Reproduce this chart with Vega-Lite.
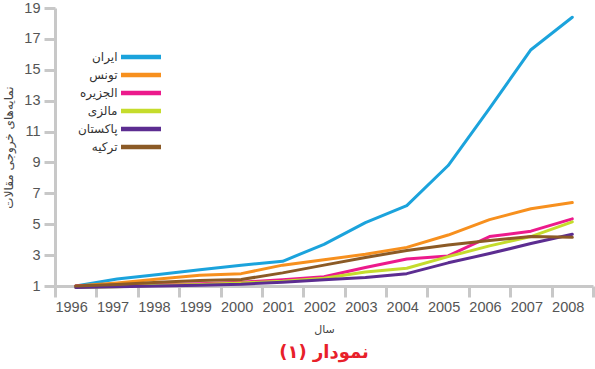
{
  "$schema": "https://vega.github.io/schema/vega-lite/v6.json",
  "width": 538,
  "height": 278,
  "autosize": {"type": "none"},
  "padding": {"left": 55, "top": 8, "right": 2, "bottom": 83},
  "background": "white",
  "title": {"text": "نمودار (۱)", "orient": "bottom", "anchor": "middle", "frame": "group", "color": "#e8202a", "fontSize": 18, "fontWeight": "bold", "font": "DejaVu Sans", "offset": 9},
  "data": {"values": [
    {"country": "ایران", "year": 1996, "value": 1},
    {"country": "ایران", "year": 1997, "value": 1.45},
    {"country": "ایران", "year": 1998, "value": 1.75},
    {"country": "ایران", "year": 1999, "value": 2.05},
    {"country": "ایران", "year": 2000, "value": 2.35},
    {"country": "ایران", "year": 2001, "value": 2.6},
    {"country": "ایران", "year": 2002, "value": 3.7},
    {"country": "ایران", "year": 2003, "value": 5.1},
    {"country": "ایران", "year": 2004, "value": 6.2},
    {"country": "ایران", "year": 2005, "value": 8.8},
    {"country": "ایران", "year": 2006, "value": 12.5},
    {"country": "ایران", "year": 2007, "value": 16.3},
    {"country": "ایران", "year": 2008, "value": 18.4},
    {"country": "تونس", "year": 1996, "value": 1},
    {"country": "تونس", "year": 1997, "value": 1.2},
    {"country": "تونس", "year": 1998, "value": 1.45},
    {"country": "تونس", "year": 1999, "value": 1.7},
    {"country": "تونس", "year": 2000, "value": 1.8},
    {"country": "تونس", "year": 2001, "value": 2.35},
    {"country": "تونس", "year": 2002, "value": 2.7},
    {"country": "تونس", "year": 2003, "value": 3.05},
    {"country": "تونس", "year": 2004, "value": 3.5},
    {"country": "تونس", "year": 2005, "value": 4.3},
    {"country": "تونس", "year": 2006, "value": 5.3},
    {"country": "تونس", "year": 2007, "value": 6.0},
    {"country": "تونس", "year": 2008, "value": 6.4},
    {"country": "الجزیره", "year": 1996, "value": 1},
    {"country": "الجزیره", "year": 1997, "value": 1.05},
    {"country": "الجزیره", "year": 1998, "value": 1.1},
    {"country": "الجزیره", "year": 1999, "value": 1.15},
    {"country": "الجزیره", "year": 2000, "value": 1.25},
    {"country": "الجزیره", "year": 2001, "value": 1.4},
    {"country": "الجزیره", "year": 2002, "value": 1.6},
    {"country": "الجزیره", "year": 2003, "value": 2.2},
    {"country": "الجزیره", "year": 2004, "value": 2.75},
    {"country": "الجزیره", "year": 2005, "value": 2.95},
    {"country": "الجزیره", "year": 2006, "value": 4.2},
    {"country": "الجزیره", "year": 2007, "value": 4.55},
    {"country": "الجزیره", "year": 2008, "value": 5.35},
    {"country": "مالزی", "year": 1996, "value": 0.9},
    {"country": "مالزی", "year": 1997, "value": 0.95},
    {"country": "مالزی", "year": 1998, "value": 1.05},
    {"country": "مالزی", "year": 1999, "value": 1.1},
    {"country": "مالزی", "year": 2000, "value": 1.2},
    {"country": "مالزی", "year": 2001, "value": 1.3},
    {"country": "مالزی", "year": 2002, "value": 1.5},
    {"country": "مالزی", "year": 2003, "value": 1.9},
    {"country": "مالزی", "year": 2004, "value": 2.15},
    {"country": "مالزی", "year": 2005, "value": 2.9},
    {"country": "مالزی", "year": 2006, "value": 3.6},
    {"country": "مالزی", "year": 2007, "value": 4.2},
    {"country": "مالزی", "year": 2008, "value": 5.15},
    {"country": "پاکستان", "year": 1996, "value": 0.9},
    {"country": "پاکستان", "year": 1997, "value": 0.95},
    {"country": "پاکستان", "year": 1998, "value": 1.0},
    {"country": "پاکستان", "year": 1999, "value": 1.05},
    {"country": "پاکستان", "year": 2000, "value": 1.12},
    {"country": "پاکستان", "year": 2001, "value": 1.25},
    {"country": "پاکستان", "year": 2002, "value": 1.4},
    {"country": "پاکستان", "year": 2003, "value": 1.55},
    {"country": "پاکستان", "year": 2004, "value": 1.8},
    {"country": "پاکستان", "year": 2005, "value": 2.5},
    {"country": "پاکستان", "year": 2006, "value": 3.1},
    {"country": "پاکستان", "year": 2007, "value": 3.75},
    {"country": "پاکستان", "year": 2008, "value": 4.35},
    {"country": "ترکیه", "year": 1996, "value": 1},
    {"country": "ترکیه", "year": 1997, "value": 1.1},
    {"country": "ترکیه", "year": 1998, "value": 1.25},
    {"country": "ترکیه", "year": 1999, "value": 1.35},
    {"country": "ترکیه", "year": 2000, "value": 1.42},
    {"country": "ترکیه", "year": 2001, "value": 1.85},
    {"country": "ترکیه", "year": 2002, "value": 2.35},
    {"country": "ترکیه", "year": 2003, "value": 2.85},
    {"country": "ترکیه", "year": 2004, "value": 3.3},
    {"country": "ترکیه", "year": 2005, "value": 3.65},
    {"country": "ترکیه", "year": 2006, "value": 3.95},
    {"country": "ترکیه", "year": 2007, "value": 4.2},
    {"country": "ترکیه", "year": 2008, "value": 4.15}
  ]},
  "mark": {"type": "line", "strokeWidth": 3, "strokeCap": "round", "strokeJoin": "round"},
  "encoding": {
    "x": {
      "field": "year", "type": "ordinal",
      "scale": {"type": "band", "paddingInner": 0, "paddingOuter": 0},
      "axis": {
        "title": "سال", "titleFont": "DejaVu Sans", "titleFontSize": 11, "titleFontWeight": "normal", "titleColor": "#444", "titlePadding": 10,
        "labelAngle": 0, "labelAlign": "left", "labelOffset": -20.7, "labelFont": "Liberation Sans", "labelFontSize": 14.5, "labelColor": "#555", "labelPadding": 3,
        "tickBand": "extent", "tickSize": 11, "tickWidth": 3, "tickColor": "#c8c8c8",
        "domainColor": "#c8c8c8", "domainWidth": 3, "grid": false
      }
    },
    "y": {
      "field": "value", "type": "quantitative",
      "scale": {"domain": [1, 19], "nice": false, "zero": false},
      "axis": {
        "title": "نمایه‌های خروجی مقالات", "titleFont": "DejaVu Sans", "titleFontSize": 12, "titleFontWeight": "normal", "titleColor": "#444", "titlePadding": 8,
        "values": [1, 3, 5, 7, 9, 11, 13, 15, 17, 19],
        "labelFont": "Liberation Sans", "labelFontSize": 14.5, "labelColor": "#555", "labelPadding": 4,
        "tickSize": 11, "tickWidth": 3, "tickColor": "#c8c8c8",
        "domainColor": "#c8c8c8", "domainWidth": 3, "grid": false
      }
    },
    "color": {
      "field": "country", "type": "nominal",
      "scale": {
        "domain": ["ایران", "تونس", "الجزیره", "مالزی", "پاکستان", "ترکیه"],
        "range": ["#1ba3dc", "#f7901e", "#ec1a8c", "#c5dc2c", "#5c2d91", "#8b5a26"]
      },
      "legend": {
        "orient": "none", "legendX": 80, "legendY": 43, "title": null,
        "symbolType": "M-8,0H8", "symbolSize": 25, "symbolStrokeWidth": 4.5, "symbolFillColor": "transparent",
        "labelAlign": "right", "labelOffset": -29.5, "labelFont": "DejaVu Sans", "labelFontSize": 12, "labelColor": "#333",
        "padding": 0, "rowPadding": 0
      }
    }
  },
  "config": {"view": {"stroke": null}}
}
